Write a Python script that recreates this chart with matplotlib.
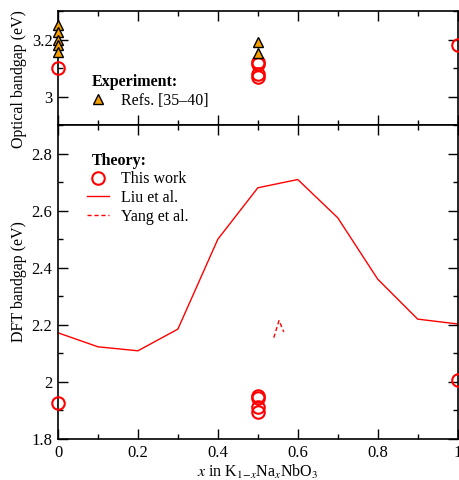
import matplotlib
matplotlib.use("Agg")
import matplotlib.pyplot as plt
from matplotlib.ticker import MultipleLocator, FormatStrFormatter
from matplotlib.lines import Line2D

plt.rcParams['font.family'] = ['Liberation Serif', 'DejaVu Serif']
plt.rcParams['mathtext.fontset'] = 'stix'
plt.rcParams['font.size'] = 11.5

### Data ###

# experiment (optical)
exp_x = [0, 0, 0, 0, 0, 0.5, 0.5]
exp_y = [3.25, 3.225, 3.20, 3.18, 3.155, 3.193, 3.154]

# this work, optical
opt_x = [0, 0.5, 0.5, 0.5, 0.5, 1]
opt_y = [3.10, 3.12, 3.115, 3.08, 3.07, 3.18]

# this work, DFT
dft_x = [0, 0.5, 0.5, 0.5, 0.5, 1]
dft_y = [1.926, 1.951, 1.944, 1.912, 1.895, 2.007]

# Liu et al.
liu_x = [0, 0.1, 0.2, 0.3, 0.4, 0.5, 0.6, 0.7, 0.8, 0.9, 1.0]
liu_y = [2.172, 2.123, 2.109, 2.185, 2.50, 2.68, 2.709, 2.575, 2.36, 2.22, 2.203]

# Yang et al.
yang_x = [0.54, 0.553, 0.565]
yang_y = [2.155, 2.215, 2.175]

red = '#ff0000'
orange = '#f5a000'

fig = plt.figure(figsize=(4.59, 4.80), dpi=100)
L, R = 0.1264, 0.997
ax1 = fig.add_axes([L, 0.7396, R - L, 0.977 - 0.7396])
ax2 = fig.add_axes([L, 0.0854, R - L, 0.7396 - 0.0854])

circ = dict(ls='none', marker='o', ms=9, mfc='none', mec=red, mew=1.5, clip_on=False, zorder=5)
tri = dict(ls='none', marker='^', ms=7, mfc=orange, mec='black', mew=1.0, clip_on=False, zorder=6)

ax1.plot(opt_x, opt_y, **circ)
ax1.plot(exp_x, exp_y, **tri)

ax2.plot(liu_x, liu_y, color=red, lw=1.0)
ax2.plot(yang_x, yang_y, color=red, lw=1.0, ls=(0, (3, 2)))
ax2.plot(dft_x, dft_y, **circ)

ax1.set_xlim(0, 1)
ax1.set_ylim(2.9, 3.3)
ax2.set_xlim(0, 1)
ax2.set_ylim(1.8, 2.9)

for ax in (ax1, ax2):
    ax.xaxis.set_major_locator(MultipleLocator(0.2))
    ax.xaxis.set_minor_locator(MultipleLocator(0.1))
    ax.yaxis.set_major_locator(MultipleLocator(0.2))
    ax.yaxis.set_minor_locator(MultipleLocator(0.1))
    ax.yaxis.set_major_formatter(FormatStrFormatter('%g'))
    ax.xaxis.set_major_formatter(FormatStrFormatter('%g'))
    ax.tick_params(which='both', direction='in', top=True, right=True, labelsize=12)
    ax.tick_params(which='major', length=7, width=1.0, pad=4)
    ax.tick_params(which='minor', length=3.5, width=1.0)
    for s in ax.spines.values():
        s.set_linewidth(1.2)
ax1.tick_params(labelbottom=False)

ax1.set_ylabel('Optical bandgap (eV)')
ax2.set_ylabel('DFT bandgap (eV)')
ax1.yaxis.set_label_coords(-0.077, 0.40)
ax2.yaxis.set_label_coords(-0.077, 0.5)
ax2.set_xlabel(r'$x$ in K$_{1\mathrm{-}x}$Na$_x$NbO$_3$', labelpad=2)

# legends
ax1.text(0.085, 0.38, 'Experiment:', transform=ax1.transAxes, fontweight='bold',
         ha='left', va='center')
h_exp = [Line2D([], [], **tri)]
ax1.legend(h_exp, ['Refs. [35\u201340]'], loc='upper left',
           bbox_to_anchor=(0.072, 0.285), frameon=False,
           handlelength=1.4, handletextpad=0.75, borderaxespad=0, borderpad=0)

ax2.text(0.085, 0.884, 'Theory:', transform=ax2.transAxes, fontweight='bold',
         ha='left', va='center')
h_th = [Line2D([], [], **circ),
        Line2D([], [], color=red, lw=1.0),
        Line2D([], [], color=red, lw=1.0, ls=(0, (3, 2)))]
ax2.legend(h_th, ['This work', 'Liu et al.', 'Yang et al.'],
           loc='upper left', bbox_to_anchor=(0.072, 0.853), frameon=False,
           handlelength=1.4, handletextpad=0.75, labelspacing=0.17,
           borderaxespad=0, borderpad=0)

fig.savefig('out.png', dpi=100)
